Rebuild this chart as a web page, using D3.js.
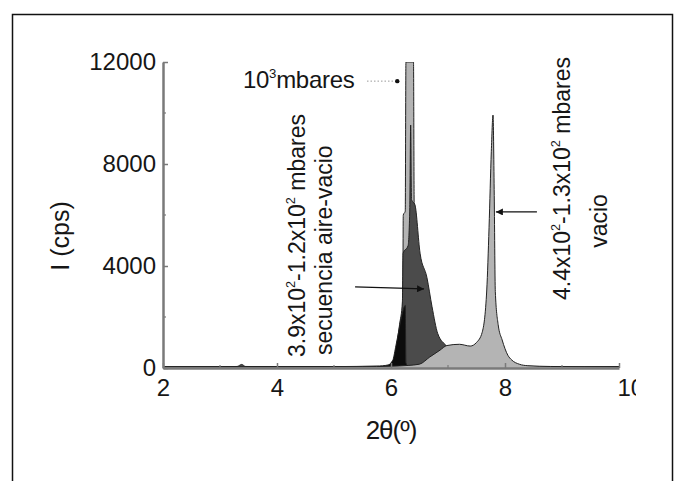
<!DOCTYPE html>
<html>
<head>
<meta charset="utf-8">
<script src="https://cdn.jsdelivr.net/npm/d3@7"></script>
<style>
  html, body { margin: 0; padding: 0; background: #fff; }
  svg { display: block; font-family: "Liberation Sans", Arial, Helvetica, sans-serif; }
</style>
</head>
<body>
<svg id="chart" width="675" height="481"></svg>
<script>
// ---- axis ticks ----
const xTicks = [2, 4, 6, 8, 10];
const xMinor = [3, 5, 7, 9];
const yTicks = [0, 4000, 8000, 12000];
const yMinor = [2000, 6000, 10000];

// ---- diffraction scans: 2θ (º) and intensity I (cps) ----
// 10^3 mbares
const atmTheta = [2.0, 3.0, 4.0, 5.0, 5.8, 6.0, 6.1, 6.18, 6.205, 6.215, 6.25, 6.262, 6.395, 6.405, 6.42, 6.5, 6.65, 6.85, 7.2, 7.8, 8.5, 10.0];
const atmI     = [40, 40, 40, 40, 60, 120, 300, 700, 1200, 6000, 6150, 12000, 12000, 6800, 4200, 2000, 900, 450, 200, 100, 60, 40];

// 3.9x10^2 - 1.2x10^2 mbares, secuencia aire-vacio
const seqTheta = [2.0, 3.0, 3.3, 3.38, 3.45, 4.0, 5.0, 5.8, 6.0, 6.05, 6.1, 6.15, 6.2, 6.212, 6.3, 6.33, 6.345, 6.36, 6.42, 6.51, 6.63, 6.72, 6.82, 6.98, 7.1, 7.3, 7.6, 8.0, 8.5, 10.0];
const seqI     = [50, 50, 60, 140, 60, 50, 55, 80, 150, 350, 900, 1700, 2600, 4500, 4800, 6300, 9530, 6600, 6400, 4500, 3550, 2400, 1350, 850, 550, 300, 150, 80, 60, 50];

// first scan of the sequence
const firstTheta = [2.0, 5.0, 5.9, 6.03, 6.08, 6.14, 6.2, 6.25, 6.262, 6.3, 6.5, 10.0];
const firstI     = [40, 40, 60, 300, 800, 1500, 2150, 2450, 200, 60, 40, 40];

// 4.4x10^2 - 1.3x10^2 mbares, vacio
const vacTheta = [2.0, 4.0, 5.5, 6.0, 6.3, 6.5, 6.68, 6.86, 6.98, 7.2, 7.39, 7.5, 7.6, 7.68, 7.72, 7.76, 7.79, 7.81, 7.83, 7.88, 7.95, 8.05, 8.12, 8.25, 8.4, 8.8, 10.0];
const vacI     = [40, 40, 50, 70, 100, 150, 430, 700, 880, 930, 860, 1000, 1400, 3060, 5500, 8500, 9920, 7000, 3000, 1700, 1100, 500, 310, 150, 90, 60, 40];

const xLabel = "2θ(º)";
const yLabel = "I (cps)";

// ---- layout ----
const svg = d3.select("#chart");
const x = d3.scaleLinear().domain([2, 10]).range([163, 619]);
const y = d3.scaleLinear().domain([0, 12000]).range([368, 62]);
const ink = "#161616";

// outer frame
svg.append("rect")
  .attr("x", 12.5).attr("y", 14.5)
  .attr("width", 660).attr("height", 480)
  .attr("fill", "none").attr("stroke", "#111").attr("stroke-width", 1.5);

const defs = svg.append("defs");
defs.append("clipPath").attr("id", "plotClip")
  .append("rect").attr("x", 163).attr("y", 62).attr("width", 456).attr("height", 307);
// tick labels stop at the right edge of the plotted image
defs.append("clipPath").attr("id", "labelClip")
  .append("rect").attr("x", 0).attr("y", -400).attr("width", 636).attr("height", 800);
defs.append("marker")
  .attr("id", "arrowHead")
  .attr("viewBox", "0 0 10 10")
  .attr("refX", 10).attr("refY", 5)
  .attr("markerWidth", 9).attr("markerHeight", 7)
  .attr("markerUnits", "userSpaceOnUse")
  .attr("orient", "auto")
  .append("path").attr("d", "M0,0 L10,5 L0,10 Z").attr("fill", "#111");

// ---- scans ----
function pts(xs, ys) { return xs.map((v, i) => [v, ys[i]]); }
const area = d3.area()
  .x(d => x(d[0])).y0(y(0)).y1(d => y(d[1]))
  .curve(d3.curveMonotoneX);
const line = d3.line()
  .x(d => x(d[0])).y(d => y(d[1]))
  .curve(d3.curveMonotoneX);

const scans = [
  { data: pts(atmTheta, atmI),     fill: "#b4b4b4" },
  { data: pts(seqTheta, seqI),     fill: "#4b4b4b" },
  { data: pts(firstTheta, firstI), fill: "#0c0c0c" },
  { data: pts(vacTheta, vacI),     fill: "#b4b4b4" }
];

const plot = svg.append("g").attr("clip-path", "url(#plotClip)");
scans.forEach(s => {
  plot.append("path").datum(s.data)
    .attr("d", area).attr("fill", s.fill);
  plot.append("path").datum(s.data)
    .attr("d", line).attr("fill", "none")
    .attr("stroke", "#222").attr("stroke-width", 1);
});

// ---- axes ----
const axisColor = "#7a7a7a";
const xAxis = svg.append("g").attr("transform", `translate(0,${y(0)})`)
  .attr("clip-path", "url(#labelClip)")
  .call(d3.axisBottom(x).tickValues(xTicks).tickFormat(d3.format("d"))
    .tickSizeInner(-5).tickSizeOuter(0).tickPadding(11));
const yAxis = svg.append("g").attr("transform", `translate(${x(2)},0)`)
  .call(d3.axisLeft(y).tickValues(yTicks).tickFormat(d3.format("d"))
    .tickSizeInner(-5).tickSizeOuter(0).tickPadding(7));

[xAxis, yAxis].forEach(g => {
  g.select(".domain").attr("stroke", axisColor).attr("stroke-width", 2.5);
  g.selectAll(".tick line").attr("stroke", axisColor).attr("stroke-width", 1.5);
  g.selectAll(".tick text")
    .attr("fill", ink)
    .attr("font-size", 24)
    .attr("font-family", "'Liberation Sans', Arial, sans-serif");
});
// the last label sits just right of its tick
xAxis.selectAll(".tick text").filter(d => d === 10)
  .attr("text-anchor", "start").attr("dx", -2);

// minor ticks
svg.append("g").selectAll("line").data(xMinor).join("line")
  .attr("x1", d => x(d)).attr("x2", d => x(d))
  .attr("y1", y(0)).attr("y2", y(0) - 3)
  .attr("stroke", axisColor).attr("stroke-width", 1.2);
svg.append("g").selectAll("line").data(yMinor).join("line")
  .attr("x1", x(2)).attr("x2", x(2) + 3)
  .attr("y1", d => y(d)).attr("y2", d => y(d))
  .attr("stroke", axisColor).attr("stroke-width", 1.2);

// axis titles
svg.append("text")
  .attr("x", 391).attr("y", 439)
  .attr("text-anchor", "middle")
  .attr("font-size", 26).attr("fill", ink)
  .attr("letter-spacing", -1)
  .text(xLabel);
svg.append("text")
  .attr("transform", "translate(69,236) rotate(-90)")
  .attr("text-anchor", "middle")
  .attr("font-size", 25).attr("fill", ink)
  .text(yLabel);

// ---- annotations ----
// text runs with small raised exponents
function supText(sel, parts, size) {
  const lift = size * 0.42;
  let pending = 0;
  parts.forEach(p => {
    const t = sel.append("tspan");
    if (p.sup) {
      t.attr("font-size", size * 0.55).attr("dy", pending - lift);
      pending = lift;
    } else {
      t.attr("font-size", size).attr("dy", pending);
      pending = 0;
    }
    t.text(p.t);
  });
}

// 10^3 mbares with dotted leader
const atmLabel = svg.append("text")
  .attr("x", 243).attr("y", 88)
  .attr("fill", ink).attr("letter-spacing", -0.3);
supText(atmLabel, [{ t: "10" }, { t: "3", sup: true }, { t: "mbares" }], 24);
svg.append("line")
  .attr("x1", 367).attr("x2", x(6.11))
  .attr("y1", y(11250)).attr("y2", y(11250))
  .attr("stroke", "#999").attr("stroke-width", 1).attr("stroke-dasharray", "1.5,2");
svg.append("circle")
  .attr("cx", x(6.11)).attr("cy", y(11250)).attr("r", 2.2).attr("fill", "#111");

// sequence labels (vertical)
const seq1 = svg.append("text")
  .attr("transform", "translate(305,357) rotate(-90)")
  .attr("fill", ink);
supText(seq1, [{ t: "3.9x10" }, { t: "2", sup: true }, { t: "-1.2x10" }, { t: "2", sup: true }, { t: " mbares" }], 23);
svg.append("text")
  .attr("transform", "translate(332,355) rotate(-90)")
  .attr("fill", ink)
  .attr("font-size", 23)
  .text("secuencia aire-vacio");

// vacuum labels (vertical)
const vac1 = svg.append("text")
  .attr("transform", "translate(570,300) rotate(-90)")
  .attr("fill", ink);
supText(vac1, [{ t: "4.4x10" }, { t: "2", sup: true }, { t: "-1.3x10" }, { t: "2", sup: true }, { t: " mbares" }], 23);
svg.append("text")
  .attr("transform", "translate(607,221) rotate(-90)")
  .attr("text-anchor", "middle")
  .attr("fill", ink).attr("font-size", 23)
  .text("vacio");

// arrows
svg.append("line")
  .attr("x1", x(5.37)).attr("y1", y(3180))
  .attr("x2", x(6.58)).attr("y2", y(3100))
  .attr("stroke", "#111").attr("stroke-width", 1.3)
  .attr("marker-end", "url(#arrowHead)");
svg.append("line")
  .attr("x1", x(8.56)).attr("y1", y(6120))
  .attr("x2", x(7.84)).attr("y2", y(6120))
  .attr("stroke", "#111").attr("stroke-width", 1.3)
  .attr("marker-end", "url(#arrowHead)");
</script>
</body>
</html>
